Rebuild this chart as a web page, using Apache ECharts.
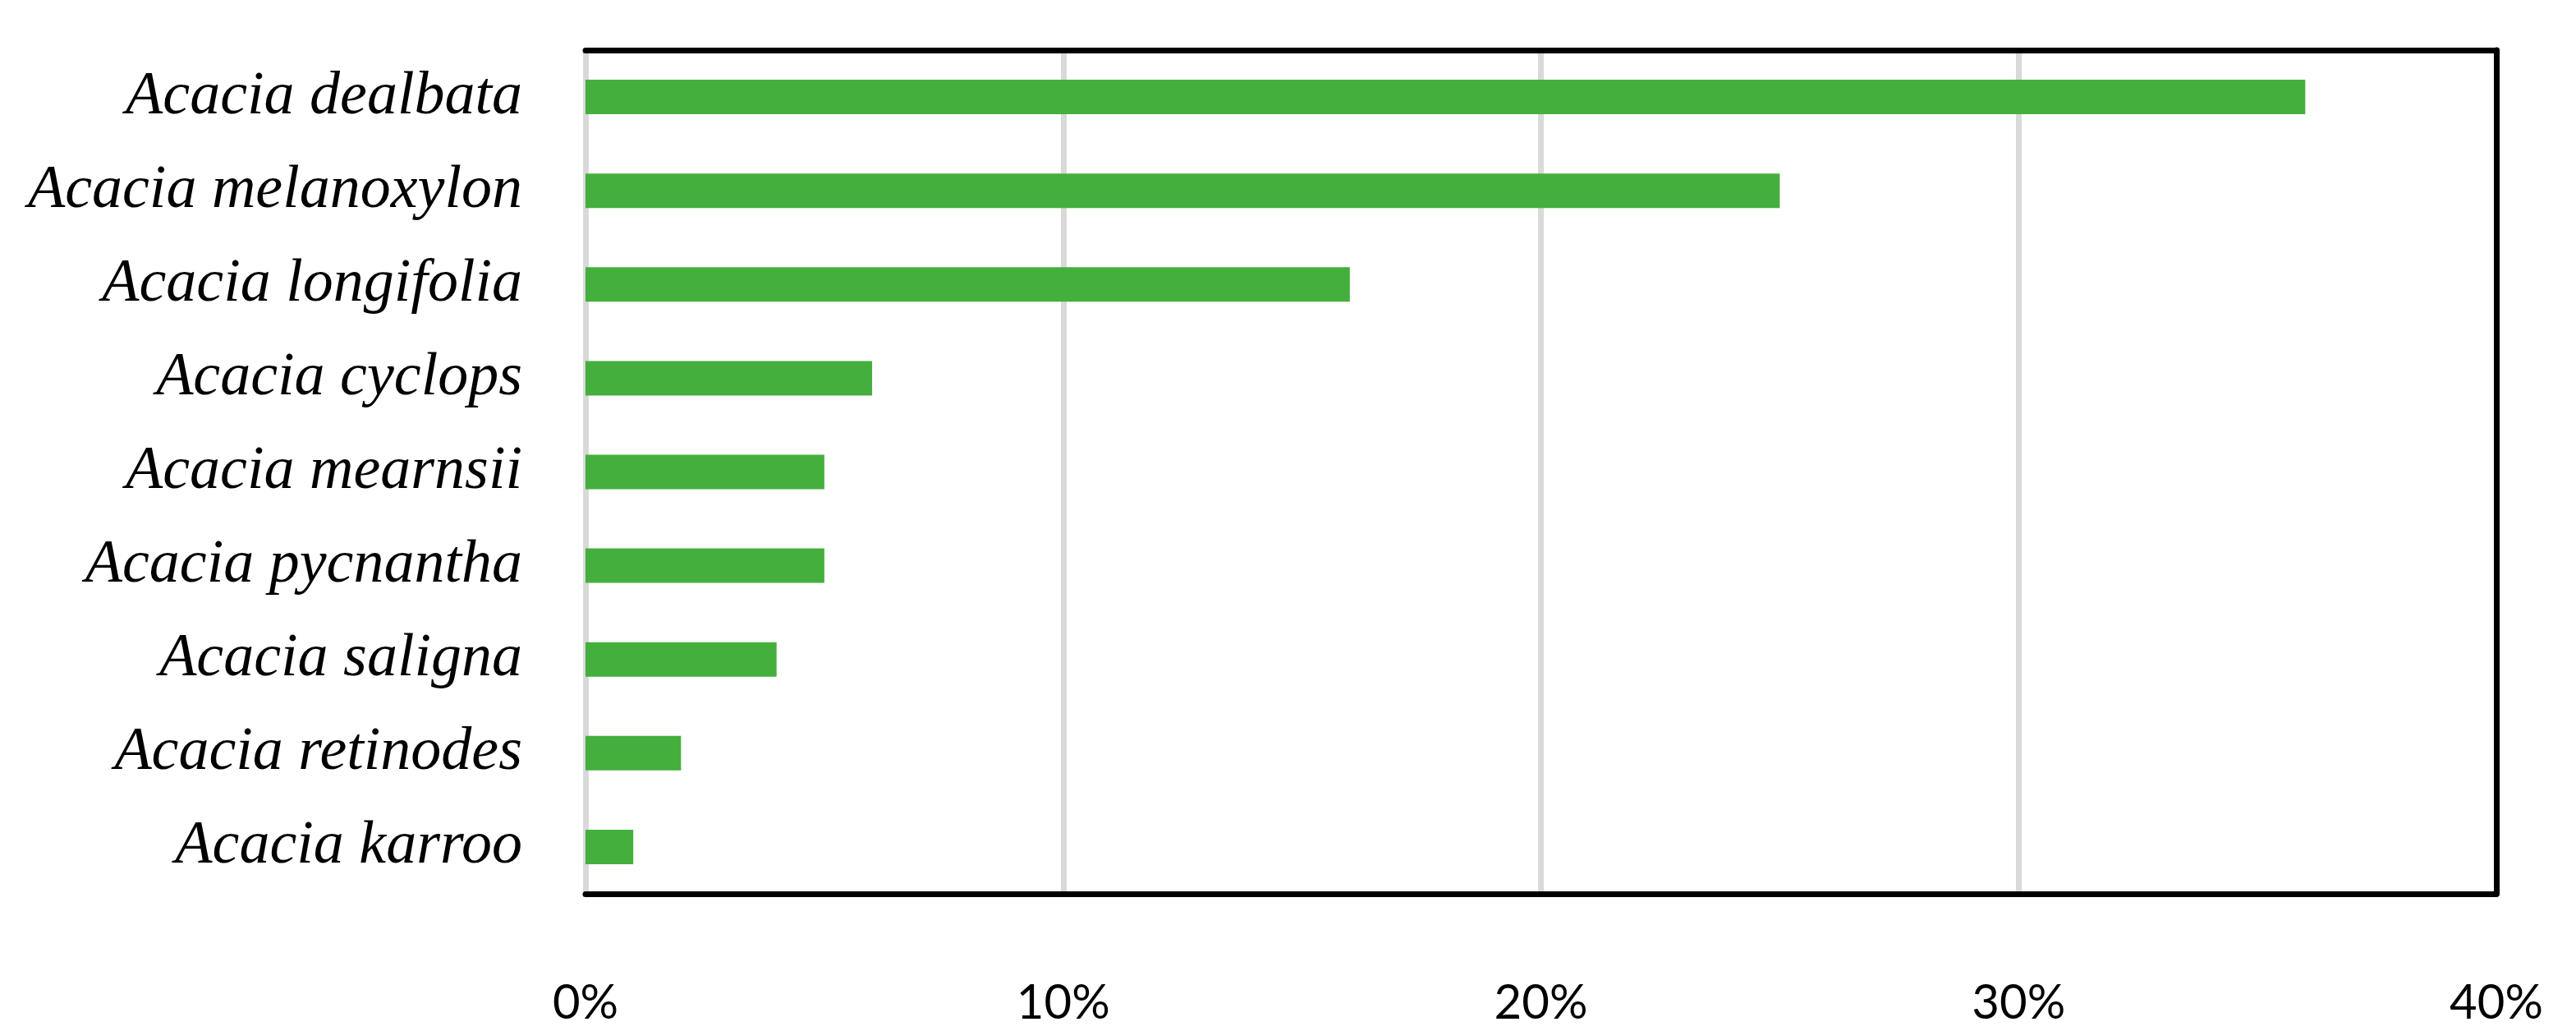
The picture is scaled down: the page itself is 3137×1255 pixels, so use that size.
<!DOCTYPE html>
<html>
<head>
<meta charset="utf-8">
<script src="https://cdn.jsdelivr.net/npm/echarts@6/dist/echarts.min.js"></script>
<style>
  html, body { margin: 0; padding: 0; background: #fff; }
  #chart_1 { width: 3137px; height: 1255px; }
</style>
</head>
<body>
<div id="chart_1"></div>
<script>
// 物种名称
let species = ['Acacia dealbata', 'Acacia melanoxylon', 'Acacia longifolia', 'Acacia cyclops',
    'Acacia mearnsii', 'Acacia pycnantha', 'Acacia saligna', 'Acacia retinodes', 'Acacia karroo'];
// 百分比数值
let shares = [36, 25, 16, 6, 5, 5, 4, 2, 1];
// x轴刻度
let xTicks = [0, 10, 20, 30, 40];

function initChart() {
    let chart = echarts.init(document.getElementById('chart_1'));
    let option = {
        backgroundColor: '#fff',
        animation: false,
        grid: {
            left: 713,
            right: 97,
            top: 61,
            bottom: 167
        },
        xAxis: [{
            type: 'value',
            min: xTicks[0],
            max: xTicks[xTicks.length - 1],
            interval: xTicks[1] - xTicks[0],
            axisLine: { show: true, onZero: false, lineStyle: { color: '#000', width: 7 } },
            axisTick: { show: false },
            splitLine: { show: true, lineStyle: { color: '#d9d9d9', width: 7 } },
            axisLabel: {
                margin: 104,
                fontFamily: 'Lato',
                fontSize: 58,
                color: '#000',
                formatter: v => v + '%'
            }
        }, {
            // 顶部边框
            type: 'value',
            position: 'top',
            min: xTicks[0],
            max: xTicks[xTicks.length - 1],
            axisLine: { show: true, onZero: false, lineStyle: { color: '#000', width: 7 } },
            axisTick: { show: false },
            axisLabel: { show: false },
            splitLine: { show: false }
        }],
        yAxis: [{
            type: 'category',
            data: species,
            inverse: true,
            position: 'left',
            // 左侧用灰色网格线
            axisLine: { show: false },
            axisTick: { show: false },
            splitLine: { show: false },
            axisLabel: {
                margin: 77,
                fontFamily: 'Liberation Serif',
                fontStyle: 'italic',
                fontSize: 74,
                color: '#000'
            }
        }, {
            // 右侧边框
            type: 'category',
            data: species,
            inverse: true,
            position: 'right',
            axisLine: { show: true, onZero: false, lineStyle: { color: '#000', width: 7 } },
            axisTick: { show: false },
            axisLabel: { show: false },
            splitLine: { show: false }
        }],
        series: [{
            type: 'bar',
            data: shares,
            barWidth: 42,
            itemStyle: { color: '#45AF3D' }
        }]
    };
    chart.setOption(option);
}
initChart();
</script>
</body>
</html>
